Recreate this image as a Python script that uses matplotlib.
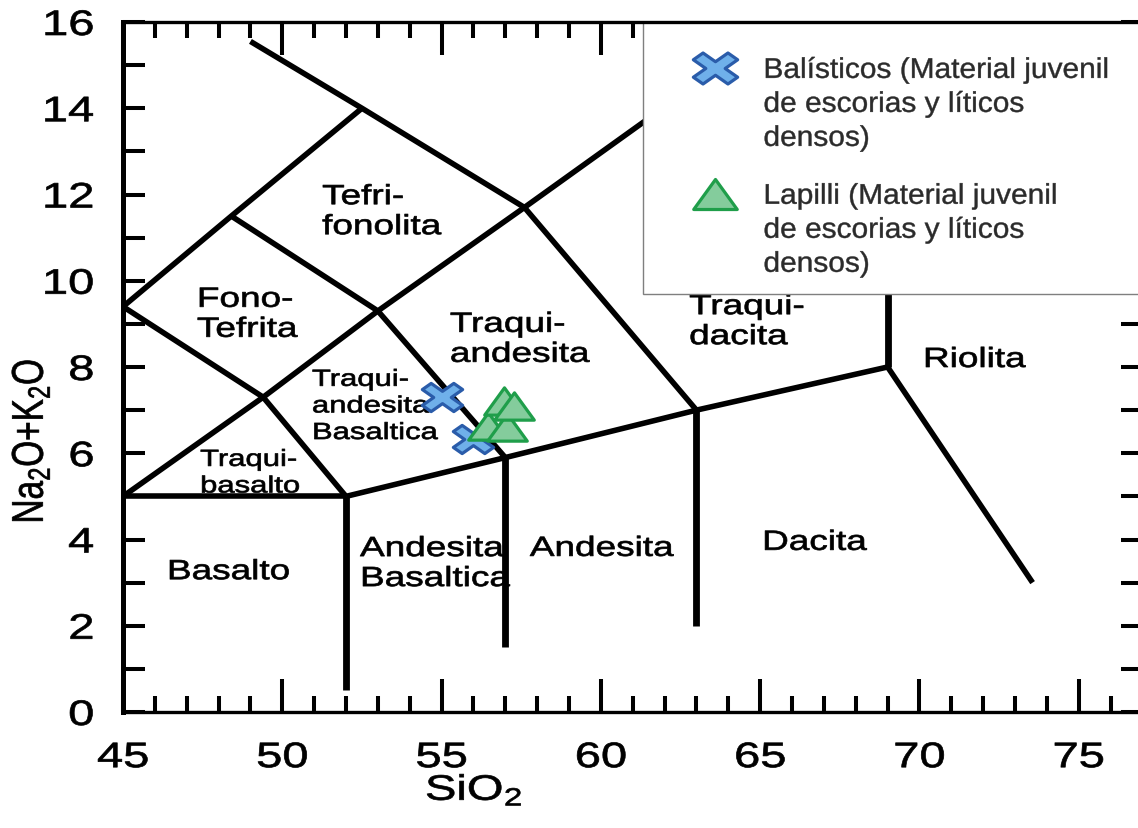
import matplotlib
matplotlib.use('Agg')
import matplotlib.pyplot as plt
import numpy as np
from matplotlib import patheffects
from matplotlib.patches import Rectangle
from matplotlib.path import Path
from matplotlib.transforms import Affine2D
from matplotlib.ticker import MultipleLocator

plt.rcParams['font.family'] = ['Liberation Sans', 'DejaVu Sans']

# TAS field boundaries: polylines in (SiO2, Na2O+K2O)
boundary_sio2 = [
    [45, 52],
    [52, 57, 63, 69],
    [45, 49.4, 52],
    [45, 49.4, 53, 57],
    [45, 48.4, 52.5],
    [48.4, 53, 57.6, 63],
    [49.0, 52.5, 57.6],
    [57.6, 63],
    [69, 73.55],
]
boundary_alk = [
    [5, 5],
    [5, 5.9, 7, 8],
    [5, 7.3, 5],
    [9.4, 7.3, 9.3, 5.9],
    [9.4, 11.5, 14],
    [11.5, 9.3, 11.7, 7],
    [15.55, 14, 11.7],
    [11.7, 14.56],
    [8, 3],
]
# vertical boundaries
vert_sio2 = [52, 57, 63, 69]
vert_low = [0.5, 1.5, 2.0, 8.0]
vert_high = [5.0, 5.9, 7.0, 13.5]

# field names, left edge and baseline of the last line
field_names = ['Tefri-\nfonolita', 'Fono-\nTefrita', 'Traqui-\nandesita',
               'Traqui-\ndacita', 'Riolita', 'Traqui-\nandesita\nBasaltica',
               'Traqui-\nbasalto', 'Basalto', 'Andesita\nBasaltica',
               'Andesita', 'Dacita']
field_x = [51.25, 47.32, 55.26, 62.77, 70.11, 50.93, 47.42, 46.38, 52.44, 57.77, 65.06]
field_y = [11.08, 8.70, 8.12, 8.53, 8.0, 6.33, 5.09, 3.08, 2.92, 3.62, 3.76]
small_fields = ['Traqui-\nandesita\nBasaltica', 'Traqui-\nbasalto']

# samples
balistic_sio2 = [55.02, 55.99]
balistic_alk = [7.31, 6.33]
lapilli_sio2 = [56.46, 57.05, 56.96, 57.27]
lapilli_alk = [6.63, 6.60, 7.22, 7.10]

balistic_label = 'Balísticos (Material juvenil\nde escorias y líticos\ndensos)'
lapilli_label = 'Lapilli (Material juvenil\nde escorias y líticos\ndensos)'


class Widen(patheffects.AbstractPathEffect):
    """Draws text wider than the font, scaled about its left, centre or right."""

    def __init__(self, factor=1.33, anchor='center', stroke=0.5):
        super().__init__()
        self.factor = factor
        self.anchor = anchor
        self.stroke = stroke

    def draw_path(self, renderer, gc, tpath, affine, rgbFace=None):
        box = tpath.get_extents(affine)
        if self.anchor == 'left':
            x0 = affine.transform((0, 0))[0]
        elif self.anchor == 'right':
            x0 = box.x1
        else:
            x0 = box.x0 + box.width / 2
        affine = affine + Affine2D().translate(-x0, 0).scale(self.factor, 1).translate(x0, 0)
        gc0 = renderer.new_gc()
        gc0.copy_properties(gc)
        gc0.set_linewidth(self.stroke)
        gc0.set_joinstyle('round')
        gc0.set_foreground(rgbFace)
        renderer.draw_path(gc0, tpath, affine, rgbFace)
        gc0.restore()


# wide cross and wide triangle markers
w = 0.28
plus = np.array([(w, w), (w, 1), (-w, 1), (-w, w), (-1, w), (-1, -w), (-w, -w),
                 (-w, -1), (w, -1), (w, -w), (1, -w), (1, w), (w, w)])
cross = Path(Affine2D().rotate_deg(45).scale(1, 0.7).transform(plus), closed=True)
triangle = Path([(0, 0.5), (-0.725, -0.5), (0.725, -0.5), (0, 0.5)], closed=True)

fig = plt.figure(figsize=(11.38, 8.29), dpi=100)
ax = fig.add_axes([123 / 1138, 116 / 829, 1019.5 / 1138, 690 / 829])

for xs, ys in zip(boundary_sio2, boundary_alk):
    ax.plot(xs, ys, color='black', lw=4.0, solid_capstyle='butt', zorder=2, clip_on=False)
for x, y0, y1 in zip(vert_sio2, vert_low, vert_high):
    ax.plot([x, x], [y0, y1], color='black', lw=4.9, solid_capstyle='butt', zorder=2)

for name, x, y in zip(field_names, field_x, field_y):
    t = ax.text(x, y, name, ha='left', va='baseline', linespacing=1.2,
                fontsize=16.8 if name in small_fields else 20, color='black', zorder=3)
    t.set_path_effects([Widen(1.33, 'left')])

ax.plot(balistic_sio2, balistic_alk, ls='none', marker=cross, ms=29,
        mfc='#6fb0ea', mec='#2a5caa', mew=2.3, zorder=6, label=balistic_label)
ax.plot(lapilli_sio2, lapilli_alk, ls='none', marker=triangle, ms=28.5,
        mfc='#84cc9c', mec='#1f9e4a', mew=2.3, zorder=7, label=lapilli_label)

# legend box
ax.add_patch(Rectangle((61.32, 9.69), 20, 6.31, facecolor='white',
                       edgecolor='#7f7f7f', lw=1.0, zorder=4))
leg = ax.legend(loc='upper left', bbox_to_anchor=(0.5542, 0.948), borderaxespad=0,
                borderpad=0, frameon=False, fontsize=20.5, handlelength=1.9,
                handletextpad=0.75, labelspacing=1.12, markerscale=1.1, numpoints=1)
leg.set_zorder(8)
for t in leg.get_texts():
    t.set_color('#2b2b2b')
    t.set_linespacing(1.4)
    t.set_path_effects([Widen(1.05, 'left', 0.3)])
for column in leg._legend_handle_box.get_children():
    for row in column.get_children():
        row.align = 'top'

ax.set_xlim(45, 77)
ax.set_ylim(0, 16)
ax.xaxis.set_major_locator(MultipleLocator(5))
ax.xaxis.set_minor_locator(MultipleLocator(1))
ax.yaxis.set_major_locator(MultipleLocator(2))
ax.yaxis.set_minor_locator(MultipleLocator(1))
ax.tick_params(axis='x', which='major', direction='in', length=23.8, width=2.9,
               top=True, pad=21, labelsize=25.5)
ax.tick_params(axis='x', which='minor', direction='in', length=11.5, width=2.9, top=True)
ax.tick_params(axis='y', which='both', direction='in', length=16, width=2.9,
               right=True, pad=21, labelsize=25.5)
for lab in ax.get_xticklabels():
    lab.set_path_effects([Widen(1.33, 'center')])
for lab in ax.get_yticklabels():
    lab.set_path_effects([Widen(1.33, 'right')])

for side in ['top', 'bottom', 'right']:
    ax.spines[side].set_linewidth(2.4)
ax.spines['left'].set_linewidth(3.6)
ax.spines['top'].set_zorder(6)

ax.set_xlabel('SiO$\\mathregular{_2}$', fontsize=25.5, va='baseline')
ax.xaxis.set_label_coords(0.3443, -0.1275)
ax.xaxis.label.set_path_effects([Widen(1.33, 'center')])
ax.set_ylabel('Na$\\mathregular{_2}$O+K$\\mathregular{_2}$O', fontsize=24, va='center')
ax.yaxis.set_label_coords(-0.0902, 0.3928)
ax.yaxis.label.set_path_effects([Widen(1.33, 'center')])

fig.savefig('out.png', dpi=100)
